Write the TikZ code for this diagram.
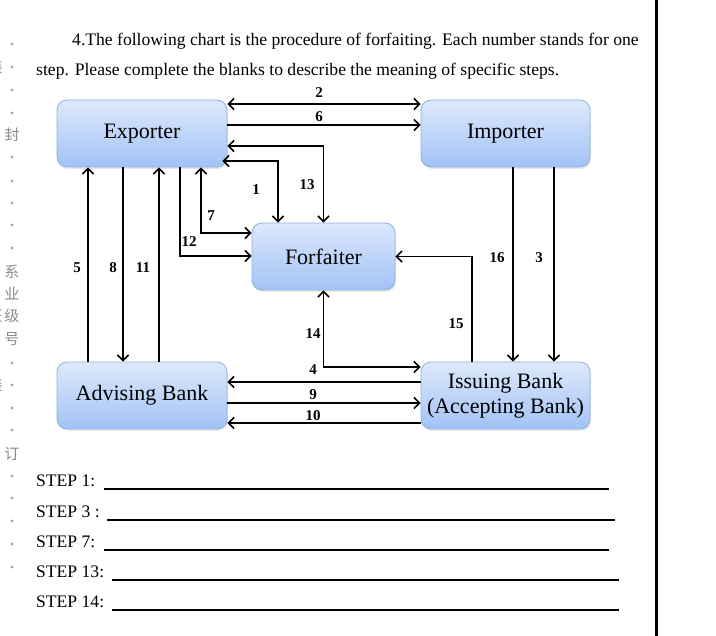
\documentclass[tikz,border=0pt]{standalone}
\usepackage{fontspec}
\setmainfont{Liberation Serif}
\newfontfamily\cjk{Noto Sans CJK SC}
\usetikzlibrary{arrows.meta,shadows,calc}
\definecolor{boxtop}{HTML}{DDE9FC}
\definecolor{boxbot}{HTML}{A2C2F6}
\definecolor{boxline}{HTML}{8DB1E0}
\definecolor{margingray}{HTML}{8A8A8A}
\tikzset{
  party/.style={draw=boxline, line width=0.8pt, rounded corners=10pt,
    top color=boxtop, bottom color=boxbot, minimum height=67pt,
    inner sep=0pt, align=center, font=\fontsize{22}{24}\selectfont,
    drop shadow={opacity=0.18, shadow xshift=1pt, shadow yshift=-2pt}},
  arr/.style={line width=1.8pt, -{Straight Barb[length=5.5pt,width=11pt,line width=1.6pt]}},
  darr/.style={line width=1.8pt, {Straight Barb[length=5.5pt,width=11pt,line width=1.6pt]}-{Straight Barb[length=5.5pt,width=11pt,line width=1.6pt]}},
  num/.style={font=\fontsize{15}{16}\selectfont\bfseries, inner sep=0pt},
  body/.style={font=\fontsize{17.6}{20}\selectfont, inner sep=0pt, anchor=base west},
  blank/.style={line width=1.2pt},
  mdot/.style={circle, fill=margingray!75, minimum size=3.4pt, inner sep=0pt},
  mchar/.style={text=margingray, font=\cjk\fontsize{15}{16}\selectfont, inner sep=0pt}
}
\begin{document}
\begin{tikzpicture}[x=1pt,y=-1pt]
\useasboundingbox (0,0) rectangle (716,636);
% right rule
\draw[line width=3pt] (656,0) -- (656,636);
% margin dots and characters
\foreach \yy [count=\i] in {44,67,90,113,157,181,203,225,248,363,385,408,430,476,498,521,544,567}
  \node[mdot] (md\i) at (12,\yy) {};
\node[mchar] (c1) at (12,135) {封};
\node[mchar] (c2) at (12,272) {系};
\node[mchar] (c3) at (12,294) {业};
\node[mchar] (c4) at (12,316) {级};
\node[mchar] (c5) at (12,339) {号};
\node[mchar] (c6) at (12,454) {订};
\node[mchar] (c7) at (-5,67) {装};
\node[mchar] (c8) at (-5,316) {班};
\node[mchar] (c9) at (-5,385) {装};
% heading
\node[body] (h1) at (72,46) {4.The following chart is the procedure of forfaiting. Each number stands for one};
\node[body] (h2) at (36,76) {step. Please complete the blanks to describe the meaning of specific steps.};
% boxes
\node[party, minimum width=170pt] (ex) at (142,133.5) {Exporter};
\node[party, minimum width=169pt] (im) at (505.5,133.5) {Importer};
\node[party, minimum width=143pt] (ff) at (323.5,256.5) {Forfaiter};
\node[party, minimum width=170pt] (ab) at (142,395.5) {Advising Bank};
\node[party, minimum width=169pt, font=\fontsize{22}{25}\selectfont] (ib) at (505.5,395.5) {Issuing Bank\\(Accepting Bank)};
% connectors
\draw[darr] (ex.east |- 0,104) -- (im.west |- 0,104);
\draw[arr] (ex.east |- 0,125) -- (im.west |- 0,125);
\draw[darr] (ex.east |- 0,146) -| (ff.north);
\draw[darr] ([xshift=-5pt]ex.east |- 0,161) -| ([xshift=-45.5pt]ff.north);
\draw[darr] (ex.south -| 201,0) |- (ff.west |- 0,233);
\draw[arr] (ex.south -| 180,0) |- (ff.west |- 0,256);
\draw[arr] (ab.north -| 88,0) -- (ex.south -| 88,0);
\draw[arr] (ex.south -| 123,0) -- (ab.north -| 123,0);
\draw[arr] (ab.north -| 159,0) -- (ex.south -| 159,0);
\draw[arr] (im.south -| 513,0) -- (ib.north -| 513,0);
\draw[arr] (im.south -| 554,0) -- (ib.north -| 554,0);
\draw[arr] (ib.north -| 472,0) |- (ff.east);
\draw[darr] (ff.south) |- (ib.west |- 0,367);
\draw[arr] (ib.west |- 0,382) -- (ab.east |- 0,382);
\draw[arr] (ab.east |- 0,403) -- (ib.west |- 0,403);
\draw[arr] (ib.west |- 0,423) -- (ab.east |- 0,423);
% step numbers
\node[num] (n2) at (319,93) {2};
\node[num] (n6) at (319,117) {6};
\node[num] (n13) at (307,185) {13};
\node[num] (n1) at (256,190) {1};
\node[num] (n7) at (211,216) {7};
\node[num] (n12) at (189,242) {12};
\node[num] (n5) at (77,268) {5};
\node[num] (n8) at (113,268) {8};
\node[num] (n11) at (143,268) {11};
\node[num] (n16) at (497,258) {16};
\node[num] (n3) at (539,258) {3};
\node[num] (n15) at (456,324) {15};
\node[num] (n14) at (313,334) {14};
\node[num] (n4) at (313,370) {4};
\node[num] (n9) at (313,395) {9};
\node[num] (n10) at (313,416) {10};
% steps
\node[body] (s1) at (36,487) {STEP 1:};
\node[body] (s3) at (36,518) {STEP 3 :};
\node[body] (s7) at (36,548) {STEP 7:};
\node[body] (s13) at (36,578) {STEP 13:};
\node[body] (s14) at (36,608) {STEP 14:};
\draw[blank] (104,489) -- (609,489);
\draw[blank] (107,520) -- (615,520);
\draw[blank] (104,550) -- (609,550);
\draw[blank] (112,580) -- (619,580);
\draw[blank] (112,610) -- (619,610);
\end{tikzpicture}
\end{document}
